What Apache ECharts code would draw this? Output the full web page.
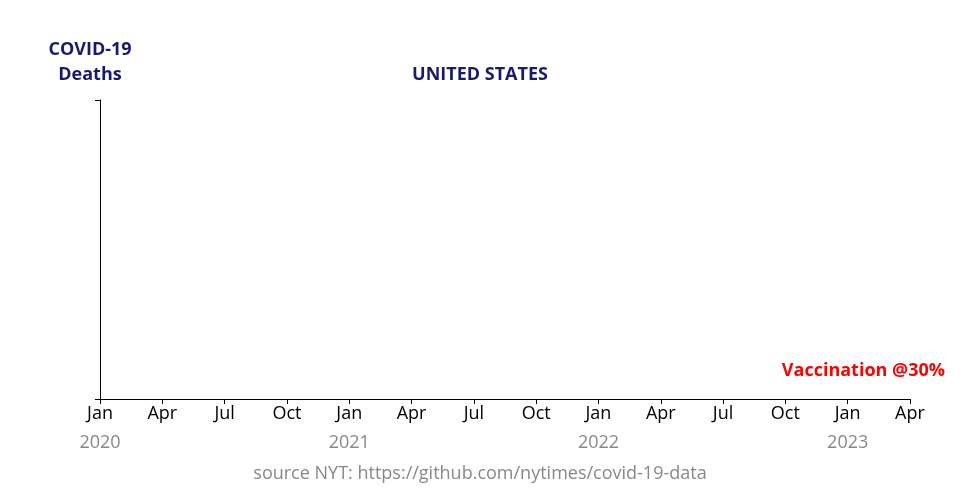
<!DOCTYPE html>
<html>
<head>
<meta charset="utf-8">
<script src="https://cdn.jsdelivr.net/npm/echarts@6/dist/echarts.min.js"></script>
<style>html,body{margin:0;padding:0;background:#fff}#c{width:960px;height:500px}</style>
</head>
<body>
<div id="c"></div>
<script>
// Months are indexed from Jan 2020 (0) to Apr 2023 (39)
var startYear = 2020;
var monthNames = ['Jan','Feb','Mar','Apr','May','Jun','Jul','Aug','Sep','Oct','Nov','Dec'];
var xMin = 0, xMax = 39, xStep = 3;
// No deaths data visible in the reference (empty plot)
var deathsX = [];
var deathsY = [];
var titleLeft = 'COVID-19\nDeaths';
var titleMain = 'UNITED STATES';
var vaccinationLabel = 'Vaccination @30%';
var sourceText = 'source NYT: https://github.com/nytimes/covid-19-data';

var font = '"Open Sans", "Noto Sans", sans-serif';
var navy = '#191970';

var chart = echarts.init(document.getElementById('c'), null, {renderer: 'canvas'});
chart.setOption({
  animation: false,
  backgroundColor: '#fff',
  textStyle: {fontFamily: font},
  grid: {left: 100, right: 50, top: 100, bottom: 101, containLabel: false},
  xAxis: {
    type: 'value', min: xMin, max: xMax, interval: xStep,
    axisLine: {lineStyle: {color: '#000', width: 1}},
    axisTick: {show: true, length: 5, lineStyle: {color: '#000'}},
    splitLine: {show: false},
    axisLabel: {
      margin: 5, color: '#000', fontSize: 18, fontFamily: font, lineHeight: 20,
      formatter: function (v) {
        var m = Math.round(v) % 12;
        var y = startYear + Math.floor(Math.round(v) / 12);
        var s = monthNames[m];
        if (m === 0) return s + '\n{y|' + y + '}';
        return s + '\n{y| }';
      },
      rich: {y: {color: '#888', fontSize: 18, fontFamily: font, lineHeight: 38}}
    }
  },
  yAxis: {
    type: 'value', min: 0, max: 1, interval: 1,
    axisLine: {show: true, lineStyle: {color: '#000', width: 1}},
    axisTick: {show: true, length: 5, lineStyle: {color: '#000'}},
    axisLabel: {show: false},
    splitLine: {show: false}
  },
  series: [{
    type: 'line', name: 'Deaths', showSymbol: false,
    data: deathsX.map(function (x, i) { return [x, deathsY[i]]; }),
    lineStyle: {color: navy}
  }],
  graphic: [
    {type: 'text', style: {text: titleLeft, fill: navy, font: 'bold 18px ' + font, textAlign: 'center', textVerticalAlign: 'middle', lineHeight: 25}, x: 90, y: 62},
    {type: 'text', style: {text: titleMain, fill: navy, font: 'bold 18px ' + font, textAlign: 'center', textVerticalAlign: 'middle'}, x: 480, y: 75},
    {type: 'text', style: {text: vaccinationLabel, fill: '#ff0000', font: 'bold 18px ' + font, textAlign: 'right', textVerticalAlign: 'middle'}, x: 945, y: 371},
    {type: 'text', style: {text: sourceText, fill: '#888', font: '18px ' + font, textAlign: 'center', textVerticalAlign: 'middle'}, x: 480, y: 474}
  ]
});
</script>
</body>
</html>
